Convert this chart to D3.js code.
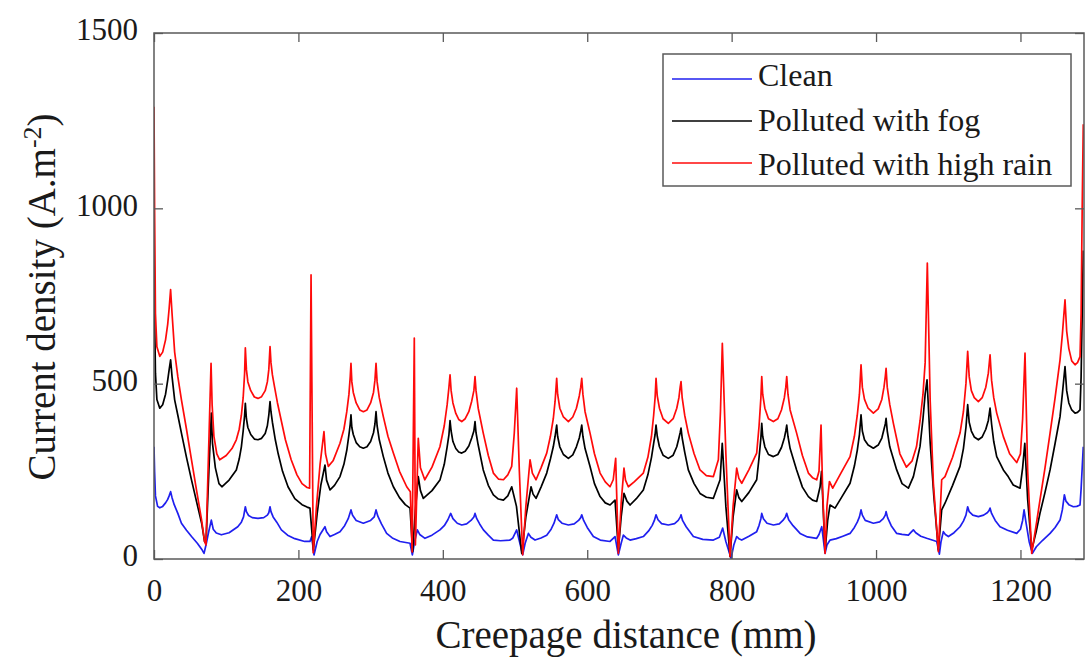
<!DOCTYPE html>
<html>
<head>
<meta charset="utf-8">
<script src="https://cdn.jsdelivr.net/npm/d3@7"></script>
<style>
  body { margin: 0; background: #ffffff; }
  svg text { font-family: "Liberation Serif", "DejaVu Serif", serif; fill: #1a1a1a; }
</style>
</head>
<body>
<svg id="chart" width="1086" height="664"></svg>
<script>
// Axis ticks
const xTicks = [0, 200, 400, 600, 800, 1000, 1200];
const yTicks = [0, 500, 1000, 1500];
const xDomain = [0, 1288];
const yDomain = [0, 1500];

// Series labels and colours
const seriesNames = ["Clean", "Polluted with fog", "Polluted with high rain"];
const seriesColors = ["#1f1fef", "#000000", "#ff0a0a"];

// Current density along the creepage path: [distance (mm), J (A/m^2)]
const cleanPts = [
  [0,320],[0.8,250],[2,180],[5,150],[8,146],[12,150],[16,160],[19,170],[21,180],[23,192],[25,175],[28,155],[33,130],[38,102],[45,82],[52,64],[60,45],[66,28],[69.3,16],
  [72,40],[76,80],[79.4,111],[82,85],[86.3,74],[93.3,69],[104,75],[116,92],[121,105],[124,120],[126.5,149],[128,135],[131,124],[136,118],[144,116],[152,118],[157,125],[159,132],[160.7,149],[162,135],[165,120],[170,105],[176.4,83],[185,68],[195,58],[208.7,50],[216,50],[218.4,64],[221.6,11.5],
  [226,50],[230,70],[236.8,92],[239,78],[243.8,64],[250,70],[257.6,78],[264,95],[269,115],[272.8,140],[275,125],[280,110],[289.9,102],[300,110],[305,120],[307.5,140],[310,122],[315,100],[322.2,73],[330,60],[340.7,50],[354.6,45],[357.8,12],
  [361,50],[364.7,83],[368,70],[375.3,59],[385,68],[396,83],[402,95],[407,112],[410.9,130],
  [414,115],[420,102],[426.2,97],[433,100],[439,110],[443,120],[444.6,130],[447,115],[451,100],[456.2,83],[463,68],[470,54],[480,52],[493,54],[497,60],[502.3,83],[505,60],[510.6,12],
  [514,45],[518.5,73],[522,62],[527.7,54],[536,60],[543.9,68],[550,85],[554,102],[557.7,126],[560,112],[565,102],[573.9,97],[582,100],[588,110],[591,118],[592.4,126],[595,110],[600,90],[608.5,64],[618,54],[631.6,50],[638.5,64],[643.1,12],
  [647,45],[650,68],[654,60],[659.3,54],[668,58],[677.7,64],[685,80],[690,96],[693,110],[695.3,126],[698,112],[703,101],[712.3,97],[721,101],[726,110],[729,120],[729.9,126],[732,110],[737,92],[747,64],[760,56],[774.7,54],[783,62],[787.6,88],[792,50],[799.2,2],
  [803,40],[807,64],[810,58],[814,54],[824,65],[834.7,78],[838,96],[840.5,115],[841.7,130],[844,115],[849,102],[857.8,97],[866,100],[871,110],[874.5,120],[876.3,130],[879,112],[885,95],[894.8,73],[905,63],[917.8,59],[921,70],[924.8,92],[929.4,16],
  [932,40],[936.3,54],[945,58],[954,65],[964,73],[970,90],[974,105],[977,120],[979.2,140],[981,125],[985,110],[996.3,102],[1005,106],[1010,115],[1012.8,125],[1013.9,135],[1016,118],[1021,95],[1028.6,73],[1036,70],[1044.8,68],[1048,75],[1051.7,83],[1055,75],[1062,65],[1070.1,59],[1084,50],[1087.7,14],
  [1090,50],[1093.2,78],[1096,70],[1100.2,64],[1108,75],[1116.3,92],[1121,108],[1124.5,125],[1126.9,149],[1129,135],[1134,125],[1141.7,121],[1149,125],[1154,132],[1156.5,138],[1157.9,145],[1160,130],[1165,110],[1171.7,92],[1182,82],[1194.8,73],[1200,85],[1203,110],[1205,140],[1208,100],[1212,50],[1216.5,16],
  [1222,35],[1230,52],[1241,73],[1248,90],[1254.8,111],[1258,140],[1260.8,183],[1263,165],[1267,155],[1273.3,149],[1278,150],[1282.5,154],[1284,200],[1285.5,260],[1287,320]
];

const fogPts = [
  [0,900],[0.8,700],[2,530],[4,455],[8,430],[12,440],[16,470],[19,510],[21,540],[23,568],[25,520],[28.6,454],[33,410],[38,359],[45,290],[52,225],[59,163],[66,102],[70,50],
  [72,45],[76,250],[79.4,416],[81,330],[85,260],[90,215],[94,206],[104,225],[114,254],[118,285],[121,320],[123.5,365],[125.5,410],[126.5,444],[128,400],[130,375],[134,355],[139,342],[144,340],[149,344],[154,358],[157,380],[159,410],[160.7,449],[162,420],[164,390],[168,340],[172,300],[178,250],[185.6,206],[195,172],[205,155],[212,148],[216,145],[220.7,26],
  [226,130],[231,210],[236.8,268],[239,225],[243.8,197],[250,210],[257.6,235],[263,270],[267,310],[270,355],[271.8,385],[272.8,411],[274,375],[276,355],[280,332],[285,320],[289.9,316],[295,320],[300,335],[304,360],[306,385],[307.5,420],[309,380],[312,340],[317.6,292],[324,245],[331.5,206],[340,175],[348,155],[354.6,145],[358.2,21],
  [362,140],[366,235],[369,195],[373,173],[385,195],[396,225],[402,270],[406,320],[408.5,355],[410,395],
  [411.5,365],[414,335],[418,315],[422,305],[426.2,302],[431,307],[436,322],[440,345],[443,365],[444.6,392],[446,360],[449,325],[456,254],[463,210],[470,183],[477,171],[483.9,168],[490,180],[495.4,206],[502,150],[509.3,16],
  [515,120],[522.2,206],[525,185],[529.1,173],[536,205],[543.9,245],[549,285],[553,320],[555.5,350],[557.7,382],[559,350],[562,320],[567,298],[573.9,287],[580,297],[585,320],[589,345],[591,365],[592.4,382],[594,350],[597,315],[603.9,264],[610,215],[617.8,178],[625,160],[631.6,154],[638.5,168],[643.1,26],
  [647,120],[650.9,187],[655,165],[659.3,154],[668,172],[677.7,197],[684,240],[689,290],[692,330],[694,355],[695.3,382],[697,350],[700,320],[705,296],[712.3,287],[719,296],[724,320],[727,345],[728.7,360],[729.9,373],[731.5,345],[735,305],[740,254],[748,215],[756.2,187],[765,176],[774.7,173],[784,226],[787,330],[792,150],[797.8,7],
  [802,120],[807,197],[810,175],[814,164],[824,190],[834.7,226],[838,290],[840.5,345],[841.7,387],[843,350],[846,320],[851,298],[857.8,292],[864,298],[869,318],[873,345],[875,365],[876.3,382],[878,350],[881,315],[890,254],[898,205],[906.3,178],[912,168],[917.8,164],[922.5,206],[924.5,250],[929.4,21],
  [933,110],[936.3,154],[943.2,145],[952,175],[964,216],[970,265],[974,310],[977,355],[979.2,411],[981,365],[984,340],[989,325],[996.3,316],[1003,325],[1008,345],[1011,370],[1012.8,385],[1013.9,401],[1015.5,365],[1019,320],[1028.6,254],[1036,215],[1044.8,202],[1051.7,235],[1056,275],[1060.9,321],[1065,400],[1068,470],[1070.6,511],[1075,330],[1080,180],[1086.3,26],
  [1090.9,140],[1095.5,159],[1106,210],[1116.3,264],[1121,315],[1124.5,375],[1126.9,440],[1129,390],[1132,365],[1136,348],[1141.7,340],[1147,348],[1152,370],[1155.5,395],[1157.9,430],[1160,385],[1163,335],[1167.1,292],[1176.3,254],[1183,235],[1190,211],[1199.4,202],[1203,260],[1206,330],[1210,170],[1215.6,26],
  [1222,80],[1227,130],[1234,190],[1241,254],[1248,330],[1254.8,406],[1258,470],[1261.7,549],[1264,480],[1267,445],[1271,425],[1275.6,416],[1279,418],[1282.5,425],[1284,520],[1285.5,700],[1287,880]
];

const rainPts = [
  [0,1290],[0.8,1000],[2,700],[4,605],[8,578],[12,590],[16,625],[19,670],[21,715],[23,768],[25,700],[28.6,590],[33,520],[38,454],[45,370],[52,282],[59,195],[66,110],[70,50],
  [72,40],[79,558],[80.5,440],[83,350],[87,300],[91,283],[100,295],[108,315],[114,340],[118,370],[121,410],[123.5,460],[125.5,530],[126.5,602],[128,540],[130,505],[134,480],[139,462],[144,458],[149,463],[154,480],[157,505],[159,540],[160.7,606],[162,560],[164,525],[167,490],[171,445],[176,397],[182,340],[190,283],[198,240],[205,215],[212,204],[215.5,202],[217.5,810],[220.5,18],
  [225,150],[230,270],[235.4,363],[237.5,300],[241.4,264],[248,280],[257.6,330],[263,370],[267,420],[270,470],[271.8,520],[272.8,558],[274,505],[276,475],[280,445],[285,425],[290,420],[295,425],[300,445],[304,475],[306,510],[307.5,558],[309,505],[312,460],[317.6,406],[324,350],[331.5,302],[340,250],[350,206],[355,192],[357.5,20],[360.5,630],[362,40],
  [366,344],[369,260],[375,226],[385,262],[396,320],[402,380],[406,440],[408.5,490],[410,525],
  [411.5,480],[414,445],[418,415],[422,398],[426.2,392],[431,400],[436,420],[440,450],[443,480],[444.6,520],[446,480],[449,430],[456,359],[463,295],[470,245],[477,228],[484,226],[490,240],[495.4,264],[499,360],[502.3,487],[506,250],[510.6,12],
  [515,150],[520.8,283],[524,245],[529.1,226],[536,260],[543.9,302],[549,350],[553,400],[555.5,450],[557.7,515],[559,470],[562,430],[567,405],[573.9,392],[580,405],[585,430],[589,465],[591,490],[592.4,515],[594,470],[597,420],[603.9,359],[610,300],[617.8,245],[625,220],[631.6,206],[636,226],[639.4,287],[643.1,16],
  [647,160],[650.9,259],[653,225],[656.9,206],[665,220],[677.7,245],[684,290],[689,350],[692,410],[694,460],[695.3,515],[697,465],[700,430],[705,400],[712.3,387],[719,400],[724,430],[727,460],[728.7,490],[729.9,506],[731.5,460],[735,410],[740,359],[748,300],[756.2,254],[765,238],[774.7,235],[781.6,283],[784.5,420],[787.1,615],[792,300],[797.8,7],
  [802,150],[807,259],[810,230],[814,216],[824,255],[834.7,302],[838,380],[840.5,460],[841.7,520],[843,470],[846,430],[851,400],[857.8,392],[864,400],[869,425],[873,460],[875,490],[876.3,520],[878,470],[881,425],[890,359],[898,295],[906.3,245],[912,232],[917.8,226],[921,250],[923.8,382],[926,200],[929.4,16],
  [932,150],[935.4,221],[940,202],[950,240],[964,292],[970,350],[974,410],[977,470],[979.2,554],[981,490],[984,455],[989,430],[996.3,416],[1003,428],[1008,455],[1011,490],[1012.8,520],[1013.9,544],[1015.5,490],[1019,440],[1024,387],[1033,300],[1042,262],[1050,280],[1056,320],[1061,395],[1065,470],[1068,560],[1071,844],[1075,450],[1079.4,216],[1086.3,21],
  [1090.9,226],[1095.5,235],[1106,290],[1116.3,359],[1121,420],[1124.5,500],[1126.9,592],[1129,520],[1132,480],[1136,460],[1141.7,449],[1147,460],[1152,490],[1155.5,530],[1157.9,582],[1160,510],[1163,460],[1167.1,416],[1176.3,349],[1185,300],[1194.8,275],[1200,300],[1203,400],[1206.3,587],[1210,250],[1215.6,16],
  [1222,100],[1227,168],[1234,260],[1241,359],[1248,460],[1254.8,568],[1258,640],[1261.7,739],[1264,650],[1267,600],[1271,565],[1275.6,554],[1279,560],[1282.5,577],[1284,700],[1285.5,1000],[1287,1240]
];

const seriesData = [cleanPts, fogPts, rainPts];

// Layout
const plot = { left: 154, right: 1084, top: 33, bottom: 559 };
const axisColor = "#5a5a5a";
const tickLen = 9;
const serif = '"Liberation Serif", "DejaVu Serif", serif';

const svg = d3.select("#chart");

const x = d3.scaleLinear().domain(xDomain).range([plot.left, plot.right]);
const y = d3.scaleLinear().domain(yDomain).range([plot.bottom, plot.top]);

// Clip the curves to the axes box
svg.append("defs").append("clipPath").attr("id", "plot-clip")
  .append("rect")
  .attr("x", plot.left).attr("y", plot.top)
  .attr("width", plot.right - plot.left).attr("height", plot.bottom - plot.top);

// Curves: clean first, rain last (on top)
const line = d3.line().x(d => x(d[0])).y(d => y(d[1])).curve(d3.curveLinear);
const curves = svg.append("g").attr("clip-path", "url(#plot-clip)");
seriesData.forEach((pts, i) => {
  curves.append("path")
    .datum(pts)
    .attr("d", line)
    .attr("fill", "none")
    .attr("stroke", seriesColors[i])
    .attr("stroke-width", 1.7)
    .attr("stroke-linejoin", "round");
});

// Axes with inward ticks on all four sides
const fmt = d3.format("d");
function styleAxis(g) {
  g.attr("font-family", serif);
  g.select(".domain").remove();
  g.selectAll(".tick line").attr("stroke", axisColor).attr("stroke-width", 1.3);
  g.selectAll(".tick text")
    .attr("fill", "#1a1a1a")
    .style("font-family", serif)
    .style("font-size", "31px");
}

svg.append("g")
  .attr("transform", `translate(0,${plot.bottom})`)
  .call(d3.axisBottom(x).tickValues(xTicks).tickFormat(fmt).tickSizeInner(-tickLen).tickSizeOuter(0).tickPadding(20))
  .call(styleAxis);

svg.append("g")
  .attr("transform", `translate(${plot.left},0)`)
  .call(d3.axisLeft(y).tickValues(yTicks).tickFormat(fmt).tickSizeInner(-tickLen).tickSizeOuter(0).tickPadding(16))
  .call(styleAxis)
  .call(g => g.selectAll(".tick text").attr("dy", "0.22em"));

svg.append("g")
  .attr("transform", `translate(0,${plot.top})`)
  .call(d3.axisTop(x).tickValues(xTicks).tickSizeInner(-tickLen).tickSizeOuter(0).tickFormat(""))
  .call(styleAxis);

svg.append("g")
  .attr("transform", `translate(${plot.right},0)`)
  .call(d3.axisRight(y).tickValues(yTicks).tickSizeInner(-tickLen).tickSizeOuter(0).tickFormat(""))
  .call(styleAxis);

// Box frame
svg.append("rect")
  .attr("x", plot.left).attr("y", plot.top)
  .attr("width", plot.right - plot.left).attr("height", plot.bottom - plot.top)
  .attr("fill", "none").attr("stroke", axisColor).attr("stroke-width", 1.5);

// Axis titles
svg.append("text")
  .attr("x", 626)
  .attr("y", 648)
  .attr("text-anchor", "middle")
  .style("font-family", serif)
  .style("font-size", "39px")
  .text("Creepage distance (mm)");

const yTitle = svg.append("text")
  .attr("transform", `translate(55,297) rotate(-90)`)
  .attr("text-anchor", "middle")
  .style("font-family", serif)
  .style("font-size", "39px");
yTitle.append("tspan").text("Current density (A.m");
yTitle.append("tspan").attr("dy", -14).style("font-size", "26px").text("-2");
yTitle.append("tspan").attr("dy", 14).text(")");

// Legend
const legend = svg.append("g");
legend.append("rect")
  .attr("x", 663).attr("y", 54).attr("width", 408).attr("height", 132)
  .attr("fill", "#ffffff").attr("stroke", axisColor).attr("stroke-width", 1.5);
const legendLineY = [79, 121, 163];
const legendTextY = [86, 131, 175];
seriesNames.forEach((name, i) => {
  legend.append("line")
    .attr("x1", 672).attr("x2", 752)
    .attr("y1", legendLineY[i]).attr("y2", legendLineY[i])
    .attr("stroke", seriesColors[i]).attr("stroke-width", 1.7);
  legend.append("text")
    .attr("x", 758).attr("y", legendTextY[i])
    .style("font-family", serif)
    .style("font-size", "32px")
    .text(name);
});
</script>
</body>
</html>
